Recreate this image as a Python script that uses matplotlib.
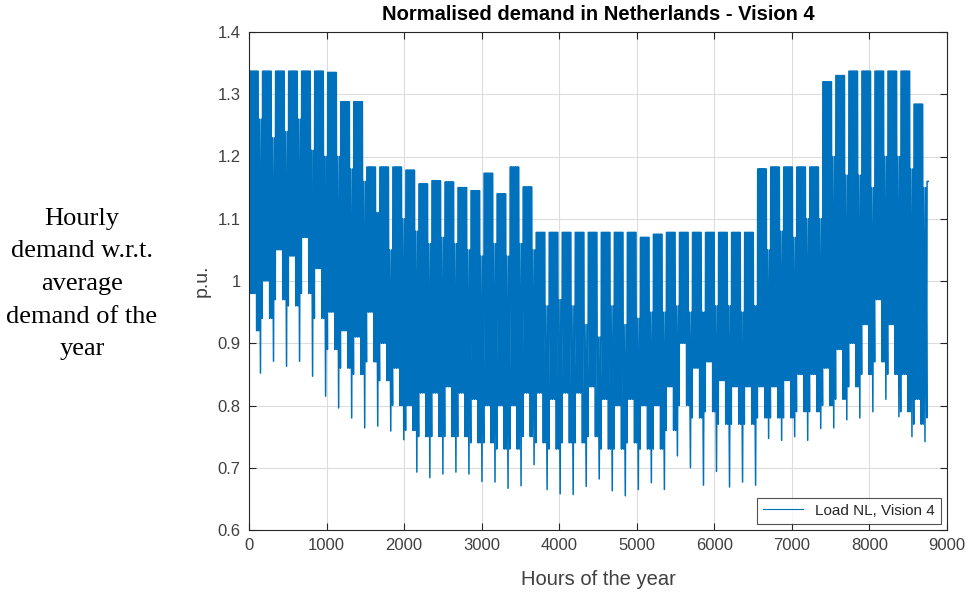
import matplotlib
matplotlib.use("Agg")
import matplotlib.pyplot as plt

# ---- data (weekly envelopes of the hourly series) ----
# weekday daily peak per week (week 0 .. week 52)
wd_max = [1.337, 1.337, 1.337, 1.337, 1.337, 1.337, 1.335, 1.288, 1.288,
          1.183, 1.183, 1.183, 1.178,
          1.156, 1.161, 1.159, 1.150, 1.145, 1.173, 1.140, 1.183, 1.151,
          1.078, 1.078, 1.078, 1.078, 1.078, 1.078, 1.078, 1.078,
          1.070, 1.075,
          1.078, 1.078, 1.078, 1.078, 1.078, 1.078, 1.078,
          1.180, 1.183, 1.183, 1.183, 1.183,
          1.320, 1.330, 1.337, 1.337, 1.337, 1.337, 1.337,
          1.284, 1.160]
# mid-week (Tue-Thu) night minimum per week
wd_min_mid = [0.98, 1.00, 1.05, 1.04, 1.07, 1.02, 0.95, 0.92, 0.91,
              0.95, 0.90, 0.86, 0.80,
              0.82, 0.82, 0.83, 0.82, 0.81, 0.80, 0.80, 0.80, 0.82,
              0.82, 0.81, 0.82, 0.82, 0.83, 0.81, 0.80, 0.81,
              0.80, 0.80,
              0.83, 0.90, 0.86, 0.87, 0.84, 0.83, 0.83,
              0.83, 0.83, 0.84, 0.85, 0.85,
              0.86, 0.89, 0.90, 0.93, 0.97, 0.93, 0.85,
              0.81, 0.82]
# Monday / Friday / Saturday night minimum per week
wd_min_edge = [0.92, 0.94, 0.97, 0.96, 0.98, 0.94, 0.89, 0.86, 0.85,
               0.87, 0.84, 0.80, 0.76,
               0.75, 0.75, 0.75, 0.75, 0.74, 0.74, 0.73, 0.73, 0.75,
               0.74, 0.73, 0.74, 0.74, 0.75, 0.73, 0.73, 0.74,
               0.73, 0.73,
               0.76, 0.80, 0.78, 0.79, 0.77, 0.77, 0.77,
               0.78, 0.78, 0.78, 0.79, 0.79,
               0.80, 0.81, 0.83, 0.85, 0.87, 0.85, 0.79,
               0.77, 0.78]
# weekend daily peak per week
we_max = [1.26, 1.23, 1.24, 1.26, 1.21, 1.20, 1.20, 1.18, 1.16,
          1.11, 1.05, 1.10, 1.08,
          1.06, 1.07, 1.06, 1.05, 1.04, 1.06, 1.04, 1.06, 1.05,
          0.96, 0.97, 0.96, 0.93, 0.91, 0.96, 0.93, 0.94,
          0.95, 0.95,
          0.96, 0.95, 0.95, 0.96, 0.96, 0.95, 0.96,
          1.05, 1.08, 1.07, 1.10, 1.10,
          1.20, 1.17, 1.17, 1.15, 1.20, 1.20, 1.18,
          1.15, 1.10]
# weekend deepest dip per week
we_min = [0.852, 0.871, 0.863, 0.871, 0.847, 0.815, 0.796, 0.780, 0.764,
          0.767, 0.759, 0.745, 0.693,
          0.684, 0.690, 0.693, 0.690, 0.678, 0.677, 0.667, 0.671, 0.705,
          0.665, 0.658, 0.657, 0.670, 0.682, 0.663, 0.655, 0.665,
          0.676, 0.665,
          0.719, 0.700, 0.672, 0.694, 0.669, 0.677, 0.672,
          0.747, 0.744, 0.750, 0.744, 0.763,
          0.764, 0.777, 0.780, 0.790, 0.810, 0.782, 0.750,
          0.742, 0.760]
start_value = 0.84

xticks = [0, 1000, 2000, 3000, 4000, 5000, 6000, 7000, 8000, 9000]
yticks = [0.6, 0.7, 0.8, 0.9, 1.0, 1.1, 1.2, 1.3, 1.4]
ytick_labels = ["0.6", "0.7", "0.8", "0.9", "1", "1.1", "1.2", "1.3", "1.4"]

title = "Normalised demand in Netherlands - Vision 4"
xlabel = "Hours of the year"
ylabel = "p.u."
legend_label = "Load NL, Vision 4"
side_text = "Hourly\ndemand w.r.t.\naverage\ndemand of the\nyear"

# ---- build the hourly-shaped series from the weekly values ----
hours = [0]
vals = [start_value]
for d in range(365):
    w = d // 7
    base = 24 * d
    dow = d % 7
    if dow < 5:
        night = wd_min_edge[w] if dow in (0, 4) else wd_min_mid[w]
        hours += [base + 3, base + 7, base + 22]
        vals += [night, wd_max[w], wd_max[w]]
    elif dow == 5:
        hours += [base + 4, base + 13]
        vals += [wd_min_edge[w], we_max[w]]
    else:
        hours += [base + 4, base + 13]
        vals += [we_min[w], we_max[w]]

# ---- figure ----
W, H = 966, 593
fig = plt.figure(figsize=(W / 100, H / 100), dpi=100)
ax = fig.add_axes([249 / W, 1 - 530 / H, (947 - 249) / W, (530 - 32) / H])

blue = "#0072BD"
axcol = "#262626"
ax.plot(hours, vals, color=blue, linewidth=1.1, label=legend_label)

ax.set_xlim(0, 9000)
ax.set_ylim(0.6, 1.4)
ax.set_xticks(xticks)
ax.set_yticks(yticks)
ax.set_yticklabels(ytick_labels)
ax.grid(True, color="#dcdcdc", linewidth=0.8)
ax.set_axisbelow(True)
for s in ax.spines.values():
    s.set_color(axcol)
    s.set_linewidth(0.8)
ax.tick_params(direction="in", length=5, width=0.8, colors=axcol,
               labelsize=12, top=True, right=True, pad=6)
for lab in ax.get_xticklabels() + ax.get_yticklabels():
    lab.set_fontfamily("Liberation Sans")
    lab.set_color("#404040")

ax.set_title(title, fontsize=14.5, fontweight="bold", family="Liberation Sans",
             color="black", pad=9)
ax.set_xlabel(xlabel, fontsize=14.5, family="Liberation Sans", color="#404040", labelpad=12)
ax.set_ylabel(ylabel, fontsize=14, family="Liberation Sans", color="#404040", labelpad=5)

leg = ax.legend(loc="lower right", frameon=True, fancybox=False,
                borderaxespad=0.4, handlelength=2.6, borderpad=0.4,
                prop={"family": "Liberation Sans", "size": 11})
leg.get_frame().set_edgecolor(axcol)
leg.get_frame().set_linewidth(0.8)
for t in leg.get_texts():
    t.set_color(axcol)
for h in leg.get_lines():
    h.set_linewidth(0.8)

fig.text(82 / W, 1 - 284 / H, side_text, ha="center", va="center",
         multialignment="center", fontsize=19, family="Liberation Serif",
         linespacing=1.62, color="black")

fig.savefig("out.png", dpi=100)
